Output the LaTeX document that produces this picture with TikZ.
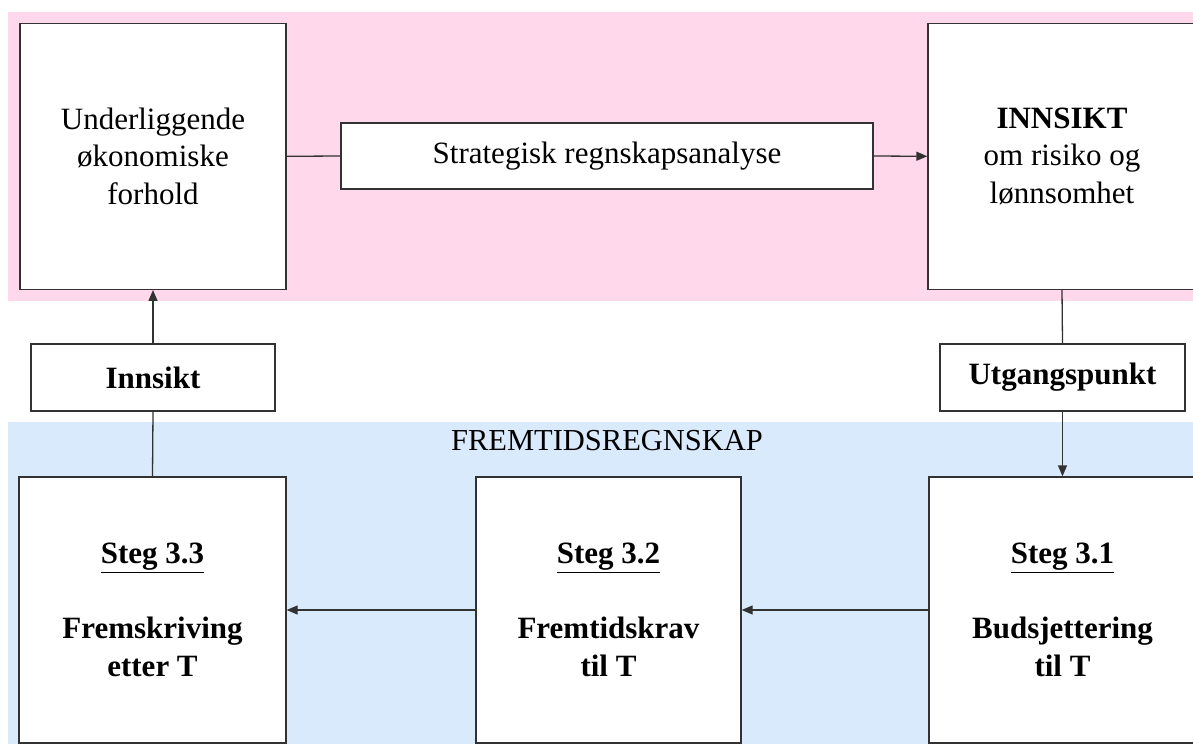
\documentclass[tikz,border=0pt]{standalone}
\usepackage{fontspec}
\setmainfont{Liberation Serif}
\usetikzlibrary{arrows.meta}
\definecolor{bandpink}{RGB}{255,216,235}
\definecolor{bandblue}{RGB}{217,234,252}
\definecolor{linegray}{RGB}{50,50,50}
\tikzset{
  box/.style={draw=linegray, line width=1.3pt, fill=white, inner sep=0pt, align=center,
    font=\fontsize{31}{37.5}\selectfont},
  conn/.style={draw=linegray, line width=1.3pt},
  arr/.style={conn, -{Triangle[length=11pt,width=9pt]}}
}
\begin{document}
\begin{tikzpicture}[x=1pt,y=-1pt]
\useasboundingbox (0,0) rectangle (1193,744);
\fill[white] (0,0) rectangle (1193,744);
% bands
\fill[bandpink] (8,12) rectangle (1193,301);
\fill[bandblue] (8,422) rectangle (1193,744);
\node[font=\fontsize{30.5}{34}\selectfont] (title) at (607,441) {FREMTIDSREGNSKAP};
% top row
\node[box, minimum width=266pt, minimum height=266pt] (under) at (153,156.3)
  {Underliggende\\økonomiske\\forhold};
\node[box, minimum width=532pt, minimum height=66pt] (strat) at (607,156)
  {Strategisk regnskapsanalyse};
\node[box, minimum width=268pt, minimum height=266pt] (innsikt) at (1062,156.3)
  {\textbf{INNSIKT}\\om risiko og\\lønnsomhet};
% middle row
\node[box, minimum width=244pt, minimum height=67pt] (inn) at (153,377.5) {\textbf{Innsikt}};
\node[box, minimum width=245pt, minimum height=67pt] (utg) at (1062.5,377.5) {\textbf{Utgangspunkt}};
% bottom row
\node[box, minimum width=267pt, minimum height=266pt] (s33) at (152.5,610)
  {\textbf{\underline{Steg 3.3}}\\[37.5pt]\textbf{Fremskriving}\\\textbf{etter T}};
\node[box, minimum width=265pt, minimum height=266pt] (s32) at (608.5,610)
  {\textbf{\underline{Steg 3.2}}\\[37.5pt]\textbf{Fremtidskrav}\\\textbf{til T}};
\node[box, minimum width=267pt, minimum height=266pt] (s31) at (1062.5,610)
  {\textbf{\underline{Steg 3.1}}\\[37.5pt]\textbf{Budsjettering}\\\textbf{til T}};
% connectors
\draw[conn] (under.east) -- (strat.west);
\draw[arr] (strat.east) -- (innsikt.west);
\draw[conn] (innsikt.south) -- (utg.north);
\draw[arr] (utg.south) -- (s31.north);
\draw[arr] (s31.west) -- (s32.east);
\draw[arr] (s32.west) -- (s33.east);
\draw[conn] (s33.north) -- (inn.south);
\draw[arr] (inn.north) -- (under.south);
\end{tikzpicture}
\end{document}
